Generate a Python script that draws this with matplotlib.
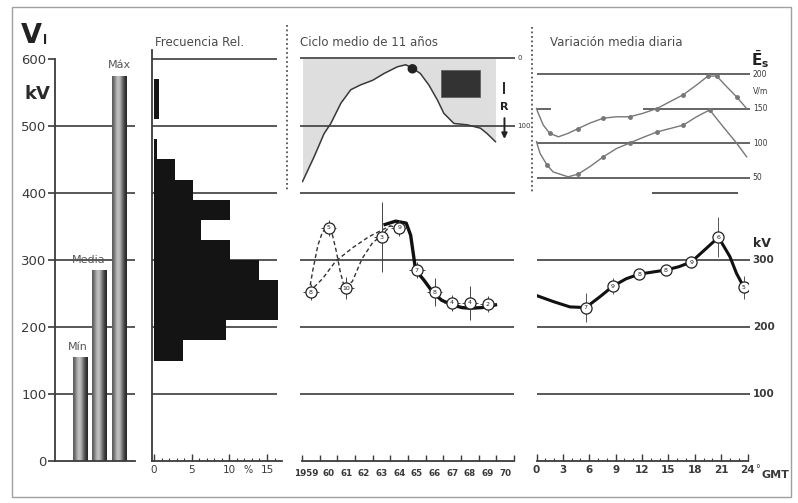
import numpy as np
import matplotlib
matplotlib.use('Agg')
import matplotlib.pyplot as plt
import matplotlib.transforms as mtransforms
from matplotlib.patches import Rectangle, Ellipse
from matplotlib.lines import Line2D

plt.rcParams['font.family'] = ['DejaVu Sans']

# ---------------- data ----------------
bar_labels = ['Mín', 'Media', 'Máx']
bar_values = [155, 285, 575]

hist_lower = [150, 180, 210, 240, 270, 300, 330, 360, 390, 420, 450, 510, 540]
hist_freq = [3.8, 9.5, 16.4, 16.4, 14.0, 10.1, 6.2, 10.1, 5.2, 2.8, 0.4, 0.6, 0.6]
hist_bin = 30
hist_ticks = [0, 5, 10, 15]

kv_ticks = [0, 100, 200, 300, 400, 500, 600]

cyc_years = [1959, 1960, 1961, 1963, 1964, 1965, 1966, 1967, 1968, 1969]
cyc_kv = [252, 348, 258, 334, 348, 285, 252, 236, 236, 234]
cyc_err = [12, 12, 16, 52, 12, 12, 21, 12, 25, 12]
cyc_n = ['8', '5', '10', '3', '9', '7', '8', '4', '4', '2']
cyc_tick_years = list(range(1959, 1971))
cyc_tick_labels = ['1959', '60', '61', '62', '63', '64', '65', '66', '67', '68', '69', '70']

zig_years = [1958.9, 1959.1, 1959.4, 1959.66, 1959.94, 1960.2, 1960.45, 1960.66,
             1960.9, 1961.35, 1961.9, 1962.5, 1962.95, 1963.5, 1963.95]
zig_kv = [252, 283, 322, 342, 348, 340, 312, 283, 259, 268, 302, 326, 335, 351, 348]

smooth_years = [1958.9, 1959.66, 1960.4, 1961.35, 1962.3, 1963.05, 1963.5]
smooth_kv = [252, 272, 298, 318, 335, 345, 351]

mean_years = [1963.2, 1963.8, 1964.4, 1964.65, 1964.85, 1964.93, 1965.4, 1965.9,
              1966.4, 1967.0, 1967.55, 1968.0, 1968.7, 1969.45]
mean_kv = [353, 358, 355, 337, 300, 285, 270, 252, 240, 233, 229, 228, 229, 233]

r_years = [1958.53, 1959.19, 1959.75, 1960.13, 1960.7, 1961.26, 1961.8, 1962.5, 1963.14,
           1963.9, 1964.37, 1964.75, 1965.2, 1965.68, 1966.16, 1966.53, 1967.1, 1967.85,
           1968.6, 1968.98, 1969.45]
r_vals = [183, 146, 112, 97, 67, 47, 40, 33, 23, 13, 10, 15, 23, 40, 62, 82, 97, 99,
          104, 112, 124]
r_ticks = [0, 100, 200]

day_hours = [5.6, 8.7, 11.7, 14.7, 17.6, 20.7, 23.6]
day_kv = [229, 261, 279, 285, 297, 334, 259]
day_err = [22, 12, 6, 7, 9, 30, 17]
day_n = ['7', '9', '8', '8', '9', '6', '5']
day_curve_h = [0, 1.9, 3.8, 5.6, 7.2, 8.7, 10.2, 11.7, 13.2, 14.7, 16.2, 17.6, 19.2,
               20.7, 22.0, 22.75, 23.6]
day_curve_kv = [247, 238, 230, 229, 245, 261, 272, 279, 282, 285, 290, 297, 316, 334,
                305, 280, 259]
day_ticks = [0, 3, 6, 9, 12, 15, 18, 21, 24]

es_a_h = [0.0, 0.2, 0.77, 1.5, 2.5, 3.6, 4.75, 6.1, 7.6, 9.1, 10.6, 12.1, 13.7, 15.2,
          16.7, 18.2, 19.5, 20.5, 21.6, 22.75, 23.9]
es_a = [150, 143, 126, 114, 109, 114, 121, 129, 136, 138, 138, 143, 150, 160, 170, 184,
        197, 197, 182, 167, 150]
es_b_h = [0.0, 0.4, 1.2, 1.9, 3.6, 4.75, 6.1, 7.6, 9.1, 10.6, 12.1, 13.7, 15.2, 16.7,
          18.2, 19.7, 21.2, 22.75, 23.9]
es_b = [102, 85, 68, 58, 51, 55, 66, 80, 92, 100, 108, 116, 121, 126, 138, 148, 124, 100, 80]
es_ticks = [200, 150, 100, 50]

# ---------------- figure helpers ----------------
W, H = 798, 503
fig = plt.figure(figsize=(W / 100, H / 100), dpi=100)
fig.patch.set_facecolor('white')

GRID = '#3c3c3c'
TXT = '#3a3a3a'


def pax(L, R, T, B):
    ax = fig.add_axes([L / W, 1 - B / H, (R - L) / W, (B - T) / H])
    ax.patch.set_alpha(0)
    for s in ax.spines.values():
        s.set_visible(False)
    ax.set_xticks([])
    ax.set_yticks([])
    return ax


def lim_from(d1, p1, d2, p2, e1, e2):
    k = (d2 - d1) / (p2 - p1)
    return d1 + (e1 - p1) * k, d1 + (e2 - p1) * k


def ftext(x, y, s, **kw):
    return fig.text(x / W, 1 - y / H, s, **kw)


def fline(xs, ys, **kw):
    fig.add_artist(Line2D([x / W for x in xs], [1 - y / H for y in ys],
                          transform=fig.transFigure, **kw))


# ---------------- panel 1: bars ----------------
ax1 = pax(55, 135, 59, 461)
for side in ('left', 'bottom'):
    ax1.spines[side].set_visible(True)
    ax1.spines[side].set_color(GRID)
    ax1.spines[side].set_linewidth(1.3)
ax1.set_yticks(kv_ticks)
ax1.set_yticklabels([str(v) for v in kv_ticks])
ax1.tick_params(axis='y', direction='out', length=5, width=1.2, pad=1,
                labelsize=9.5, colors=TXT)
for v in kv_ticks[1:-1]:
    ax1.axhline(v, color=GRID, lw=1.2, zorder=1)
bars = ax1.bar(range(len(bar_values)), bar_values, width=0.74, color='none',
               edgecolor='none', zorder=2)
grad = np.array([[0.36, 0.52, 0.70, 0.78, 0.66, 0.46, 0.28, 0.16]])
for b in bars:
    x0, w, h = b.get_x(), b.get_width(), b.get_height()
    im = ax1.imshow(grad, extent=[x0, x0 + w, 0, h], aspect='auto', cmap='gray',
                    vmin=0, vmax=1, interpolation='bicubic', zorder=2)
    im.set_clip_path(b)
ax1.set_xlim(*lim_from(0, 80, 1, 99.5, 55, 135))
ax1.set_ylim(0, 600)
offs = [-0.1, -0.55, 0.0]
for i, (lab, v) in enumerate(zip(bar_labels, bar_values)):
    ax1.text(i + offs[i], v + 8, lab, ha='center', va='bottom', fontsize=8,
             color='#555555', clip_on=False)

ftext(21, 43, 'V', fontsize=19.5, fontweight='bold', color='#222222')
ftext(43, 44, 'l', fontsize=9, fontweight='bold', color='#222222')
ftext(24, 94, 'kV', fontsize=13, fontweight='bold', color='#2a2a2a', va='center')

# ---------------- panel 2: histogram ----------------
ax2 = pax(152, 282, 50, 461)
xl2 = lim_from(0, 154, 15, 267, 152, 282)
ax2.set_xlim(*xl2)
ax2.set_ylim(*lim_from(0, 461, 600, 59, 461, 50))
for side in ('left', 'bottom'):
    ax2.spines[side].set_visible(True)
    ax2.spines[side].set_color(GRID)
    ax2.spines[side].set_linewidth(1.3)
ax2.hlines(kv_ticks[1:], xl2[0], 16.3, color=GRID, lw=1.2, zorder=1)
ax2.barh([lo + hist_bin / 2 for lo in hist_lower], hist_freq, height=hist_bin, left=0,
         color='#141414', edgecolor='none', zorder=3)
ax2.set_xticks(hist_ticks)
ax2.set_xticklabels([str(t) for t in hist_ticks])
ax2.set_xticks(range(0, 17), minor=True)
ax2.tick_params(axis='x', which='major', direction='in', length=5, width=1,
                labelsize=7.5, colors=TXT, pad=3)
ax2.tick_params(axis='x', which='minor', direction='in', length=2.5, width=0.8,
                colors=TXT)
ax2.annotate('%', xy=(12.5, 0), xycoords=('data', 'axes fraction'), xytext=(0, -3),
             textcoords='offset points', ha='center', va='top', fontsize=7, color=TXT)
ftext(155, 42, 'Frecuencia Rel.', fontsize=8.5, color='#4a4a4a', va='center')

# ---------------- panel 3: 11-year cycle ----------------
ax3r = pax(302, 514, 59, 461)
ax3r.set_xlim(1958.5, 1970.5)
ax3r.set_ylim(*lim_from(0, 58, 200, 193, 461, 59))
ax3r.fill_between(r_years, r_vals, 0, color='#dedede', lw=0, zorder=1)
ax3r.hlines(r_ticks, 1958.4, 1970.55, color=GRID, lw=1.2, zorder=2, clip_on=False)
ax3r.plot(r_years, r_vals, color='#3a3a3a', lw=1.1, zorder=3)
ax3r.add_patch(Rectangle((1966.35, 18), 2.25, 40, facecolor='#333333',
                         edgecolor='#555555', lw=0.5, zorder=3))
ax3r.add_patch(Ellipse((1964.75, 16), 0.55, 14, facecolor='#222222', zorder=4))
for t in r_ticks[:2]:
    ax3r.text(1970.7, t, str(t), ha='left', va='center', fontsize=5, color=TXT,
              clip_on=False)
ax3r.plot([1969.96, 1969.96], [37, 52], color='#222222', lw=1.4)
ax3r.text(1969.96, 72, 'R', ha='center', va='center', fontsize=8, fontweight='bold',
          color='#222222')
ax3r.annotate('', xy=(1969.96, 124), xytext=(1969.96, 85),
              arrowprops=dict(arrowstyle='-|>', color='#222222', lw=1.4,
                              mutation_scale=8))

ax3 = pax(302, 514, 59, 461)
ax3.set_xlim(1958.5, 1970.5)
ax3.set_ylim(0, 600)
ax3.hlines([100, 200, 300], 1958.4, 1970.5, color=GRID, lw=1.2, zorder=1, clip_on=False)
ax3.spines['bottom'].set_visible(True)
ax3.spines['bottom'].set_color(GRID)
ax3.spines['bottom'].set_linewidth(1.3)
ax3.set_xticks(cyc_tick_years)
ax3.set_xticklabels(cyc_tick_labels)
ax3.set_xticks(np.arange(1958.5, 1971, 1), minor=True)
ax3.tick_params(axis='x', which='major', length=0, labelsize=6.3, colors=TXT, pad=6)
ax3.tick_params(axis='x', which='minor', direction='in', length=4, width=1, colors=TXT)
for k, lab in enumerate(ax3.get_xticklabels()):
    lab.set_fontweight('bold')
    if k == 0:
        lab.set_transform(lab.get_transform() +
                          mtransforms.ScaledTranslation(-5 / 100, 0, fig.dpi_scale_trans))
ax3.plot(zig_years, zig_kv, color='#333333', lw=1.0, ls=(0, (3, 2)), zorder=3)
ax3.plot(smooth_years, smooth_kv, color='#333333', lw=1.0, ls=(0, (3, 2)), zorder=3)
ax3.plot(mean_years, mean_kv, color='#111111', lw=2.4, zorder=3)
ax3.errorbar(cyc_years, cyc_kv, yerr=cyc_err, xerr=0.45, fmt='none', ecolor='#444444',
             elinewidth=0.7, capsize=0, zorder=4)
ax3.plot(cyc_years, cyc_kv, 'o', ms=8, mfc='white', mec='#222222', mew=0.9, zorder=5)
for x, y, n in zip(cyc_years, cyc_kv, cyc_n):
    ax3.text(x, y, n, ha='center', va='center', fontsize=4.5, color='#222222', zorder=6)
ftext(300, 43, 'Ciclo medio de 11 años', fontsize=8.5, color='#4a4a4a', va='center')

# ---------------- panel 4: daily variation ----------------
ax4e = pax(536.5, 747.5, 59, 461)
ax4e.set_xlim(0, 24)
ax4e.set_ylim(*lim_from(200, 74, 50, 177.5, 461, 59))
ax4e.hlines([es_ticks[0], es_ticks[2], es_ticks[3]], 0, 24.3, color=GRID, lw=1.1,
            zorder=1, clip_on=False)
ax4e.hlines(es_ticks[1], 12.1, 24.3, color=GRID, lw=1.1, zorder=1, clip_on=False)
ax4e.hlines(es_ticks[1], 0, 1.7, color=GRID, lw=1.1, zorder=1)
ax4e.plot(es_a_h, es_a, color='#777777', lw=1.0, marker='o', ms=2.5,
          markevery=[3, 6, 8, 10, 12, 14, 16, 17, 19], zorder=3, clip_on=False)
ax4e.plot(es_b_h, es_b, color='#777777', lw=1.0, marker='o', ms=2.5,
          markevery=[2, 5, 7, 9, 11, 13, 15], zorder=3, clip_on=False)
for t in es_ticks:
    ax4e.text(24.6, t, str(t), ha='left', va='center', fontsize=5.5, color=TXT,
              clip_on=False)
ax4e.text(24.6, 175, 'V/m', ha='left', va='center', fontsize=5.5, color=TXT,
          clip_on=False)
ax4e.text(24.4, 222, r'$\bar{\mathbf{E}}_{\mathbf{s}}$', ha='left', va='center',
          fontsize=11, color='#222222', clip_on=False)

ax4 = pax(536.5, 747.5, 59, 461)
ax4.set_xlim(0, 24)
ax4.set_ylim(0, 600)
ax4.hlines([100, 200, 300], 0, 24.3, color=GRID, lw=1.2, zorder=1, clip_on=False)
ax4.hlines(400, 13.1, 22.9, color=GRID, lw=1.2, zorder=1)
ax4.spines['bottom'].set_visible(True)
ax4.spines['bottom'].set_color(GRID)
ax4.spines['bottom'].set_linewidth(1.3)
ax4.set_xticks(day_ticks)
ax4.set_xticklabels([str(t) for t in day_ticks])
ax4.set_xticks(range(0, 25), minor=True)
ax4.tick_params(axis='x', which='major', direction='in', length=5, width=1,
                labelsize=7.5, colors=TXT, pad=3)
ax4.tick_params(axis='x', which='minor', direction='in', length=2.5, width=0.8,
                colors=TXT)
for lab in ax4.get_xticklabels():
    lab.set_fontweight('bold')
ax4.plot(day_curve_h, day_curve_kv, color='#111111', lw=2.2, zorder=3)
ax4.errorbar(day_hours, day_kv, yerr=day_err, fmt='none', ecolor='#555555',
             elinewidth=0.7, capsize=0, ls=':', zorder=4)
ax4.plot(day_hours, day_kv, 'o', ms=8, mfc='white', mec='#222222', mew=0.9, zorder=5)
for x, y, n in zip(day_hours, day_kv, day_n):
    ax4.text(x, y, n, ha='center', va='center', fontsize=4.5, color='#222222', zorder=6)
for v in [100, 200, 300]:
    ax4.text(24.6, v, str(v), ha='left', va='center', fontsize=7.5, color=TXT,
             clip_on=False, fontweight='bold')
ax4.text(24.6, 325, 'kV', ha='left', va='center', fontsize=9, color='#2a2a2a',
         fontweight='bold', clip_on=False)
ftext(755, 469, '°', fontsize=7, color=TXT, va='center')
ftext(762, 475, 'GMT', fontsize=8, color=TXT, va='center', fontweight='bold')
ftext(550, 43, 'Variación media diaria', fontsize=8.5, color='#4a4a4a', va='center')

# ---------------- decorations ----------------
fline([287, 287], [25, 192], color='#555555', lw=1.3, ls=(0, (1, 1.5)))
fline([532, 532], [27, 192], color='#555555', lw=1.3, ls=(0, (1, 1.5)))
fig.add_artist(Rectangle((12 / W, 1 - 497 / H), (791 - 12) / W, (497 - 7) / H,
                         transform=fig.transFigure, fill=False, edgecolor='#a0a0a0',
                         lw=1.0))

fig.savefig('out.png', dpi=100, facecolor='white')
